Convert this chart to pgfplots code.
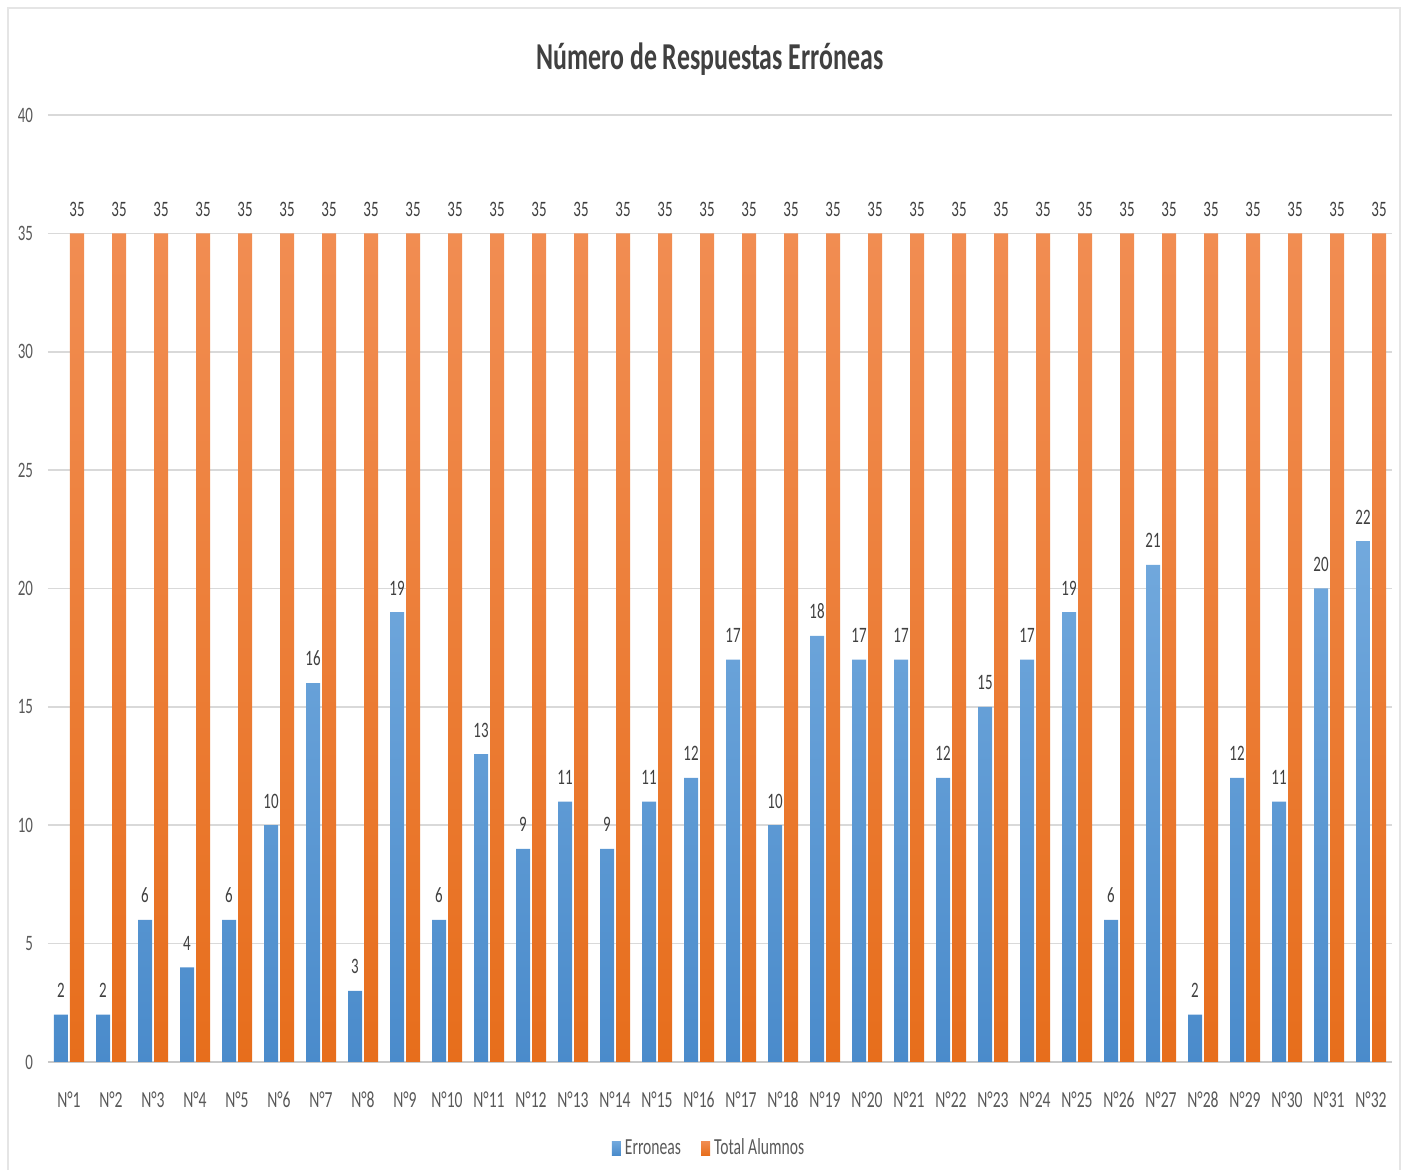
\documentclass[border=0pt]{standalone}
\usepackage{fontspec}
\setmainfont{Carlito}[FakeStretch=0.68]
\usepackage{pgfplots}
\pgfplotsset{compat=1.18}
\definecolor{bluetop}{HTML}{72A9DD}
\definecolor{bluebot}{HTML}{4A8BCB}
\definecolor{orangetop}{HTML}{F18D52}
\definecolor{orangebot}{HTML}{E76E1C}
\definecolor{gridgray}{HTML}{D9D9D9}
\definecolor{axisgray}{HTML}{C8C8C8}
\definecolor{tickgray}{HTML}{595959}
\definecolor{labelgray}{HTML}{404040}
\begin{document}
\begin{tikzpicture}
\path[use as bounding box] (-24pt,-54pt) rectangle (679pt,531pt);
\draw[gray!20, line width=1pt] (-20pt,-60pt) -- (-20pt,527pt) -- (676pt,527pt) -- (676pt,-60pt);
\begin{axis}[
  at={(0,0)}, anchor=south west, scale only axis,
  width=672pt, height=473.5pt,
  ybar=1pt, bar width=7pt,
  xmin=-0.5, xmax=31.5, ymin=0, ymax=40,
  ytick={0,5,...,40},
  xtick={0,...,31},
  xticklabels={N°1,N°2,N°3,N°4,N°5,N°6,N°7,N°8,N°9,N°10,N°11,N°12,N°13,N°14,N°15,N°16,N°17,N°18,N°19,N°20,N°21,N°22,N°23,N°24,N°25,N°26,N°27,N°28,N°29,N°30,N°31,N°32},
  axis x line*=bottom, axis y line*=left,
  y axis line style={draw=none},
  x axis line style={draw=axisgray, line width=1pt},
  tick style={draw=none},
  ymajorgrids, grid style={draw=gridgray, line width=0.8pt},
  /pgf/number format/assume math mode=true,
  yticklabel style={text=tickgray, font=\fontsize{11}{13}\selectfont, xshift=-4pt},
  xticklabel style={text=tickgray, font=\fontsize{11.5}{13}\selectfont, yshift=-7pt},
  nodes near coords,
  every node near coord/.append style={font=\fontsize{11}{13}\selectfont, text=labelgray, yshift=5pt},
  legend style={at={(0.4926,-0.091)}, anchor=center, draw=none, fill=none,
    legend columns=2, font=\fontsize{11.5}{13}\selectfont, text=tickgray,
    /tikz/every even column/.append style={column sep=8pt}},
  legend image code/.code={\fill[#1] (0pt,-3.5pt) rectangle (4.5pt,3.5pt);},
  title={Número de Respuestas Erróneas},
  title style={at={(0.4926,1)}, anchor=center, yshift=22pt, font=\fontsize{19}{22}\selectfont\bfseries, text=labelgray},
  clip=false
]
\addplot[draw=none, top color=bluetop, bottom color=bluebot] coordinates {
(0,2) (1,2) (2,6) (3,4) (4,6) (5,10) (6,16) (7,3) (8,19) (9,6)
(10,13) (11,9) (12,11) (13,9) (14,11) (15,12) (16,17) (17,10) (18,18) (19,17)
(20,17) (21,12) (22,15) (23,17) (24,19) (25,6) (26,21) (27,2) (28,12) (29,11)
(30,20) (31,22)};
\addplot[draw=none, top color=orangetop, bottom color=orangebot] coordinates {
(0,35) (1,35) (2,35) (3,35) (4,35) (5,35) (6,35) (7,35) (8,35) (9,35)
(10,35) (11,35) (12,35) (13,35) (14,35) (15,35) (16,35) (17,35) (18,35) (19,35)
(20,35) (21,35) (22,35) (23,35) (24,35) (25,35) (26,35) (27,35) (28,35) (29,35)
(30,35) (31,35)};
\legend{Erroneas, Total Alumnos}
\end{axis}
\end{tikzpicture}
\end{document}
